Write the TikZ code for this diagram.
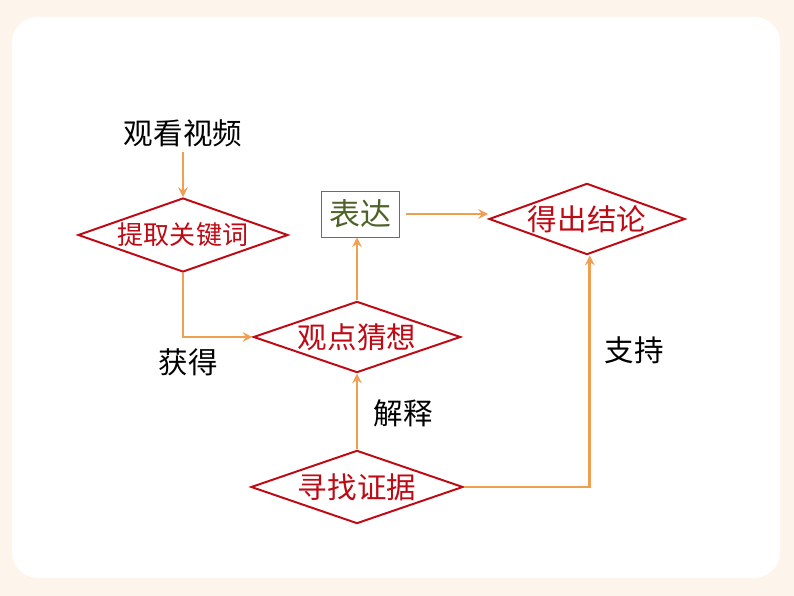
\documentclass[tikz,border=0pt]{standalone}
\usepackage{fontspec}
\setmainfont{Noto Sans CJK SC}
\usepackage{tikz}
\usetikzlibrary{shapes.geometric,arrows,calc}
\definecolor{jt}{RGB}{240,158,80}
\definecolor{hong}{RGB}{190,10,20}
\definecolor{kuang}{RGB}{70,120,140}
\definecolor{lv}{RGB}{79,98,40}
\definecolor{di}{RGB}{253,244,236}
\def\dz{\fontsize{21}{25}\selectfont}

\begin{document}
\begin{tikzpicture}[>=stealth,
    lingxing/.style={diamond,draw=hong,line width=1.4pt,text=hong,inner sep=0pt,aspect=2.8},
    jiantou/.style={jt,line width=2pt,->}]
    % background
    \fill[di] (0,0) rectangle (19.85,14.9);
    \fill[white,rounded corners=0.65cm] (0.3,0.45) rectangle (19.5,14.48);
    \node (gk) at (4.575,11.575){\dz 观看视频};
    \node [lingxing,minimum width=5.25cm,minimum height=1.85cm](tq) at (4.575,9.025){\fontsize{18.5}{22}\selectfont 提取关键词};
    \node [lingxing,minimum width=5.18cm,minimum height=1.78cm](gd) at (8.925,6.475){\dz 观点猜想};
    \node [draw=kuang,line width=0.6pt,text=lv,minimum width=1.95cm,minimum height=1.15cm,inner sep=0pt](bd) at (9.0,9.55){\fontsize{22}{26}\selectfont 表达};
    \node [lingxing,minimum width=4.9cm,minimum height=1.78cm](dc) at (14.675,9.425){\dz 得出结论};
    \node [lingxing,minimum width=5.3cm,minimum height=1.83cm](xz) at (8.925,2.725){\dz 寻找证据};
    \node (hd) at (4.7,5.85){\dz 获得};
    \node (js) at (10.075,4.575){\dz 解释};
    \node (zc) at (15.85,6.15){\dz 支持};
    % arrows
    \draw[jiantou] (gk.south) -- (tq.north);
    \draw[jiantou] (tq.south) |- (gd.west);
    \draw[jiantou] (gd.north) -- (gd.north|-bd.south);
    \draw[jiantou,shorten <=5pt] (bd.east) -- (bd.east-|dc.west);
    \draw[jiantou] (xz.north) -- (gd.south);
    \draw[jiantou] (xz.east) -| ($(dc.south)+(0.07,0)$);
\end{tikzpicture}
\end{document}
